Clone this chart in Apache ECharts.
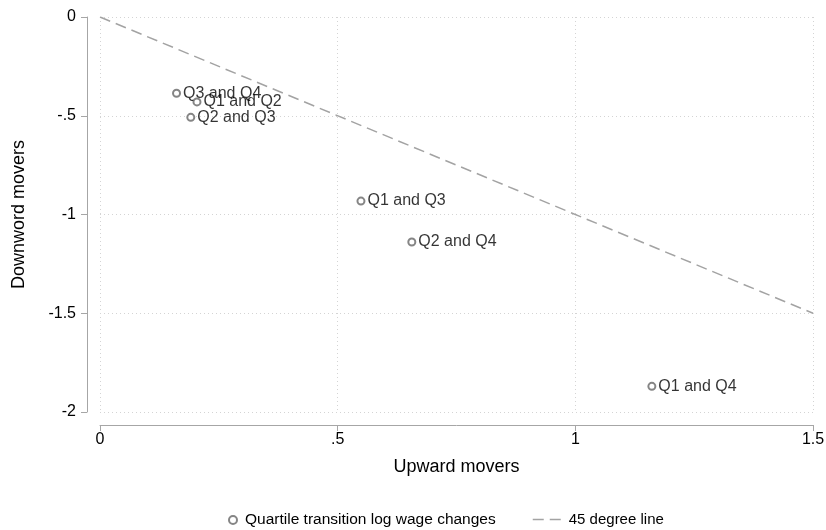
<!DOCTYPE html>
<html>
<head>
<meta charset="utf-8">
<script src="https://cdn.jsdelivr.net/npm/echarts@6/dist/echarts.min.js"></script>
<style>
  html, body { margin: 0; padding: 0; background: #fff; }
  #chart { width: 826px; height: 530px; }
</style>
</head>
<body>
<div id="chart"></div>
<script>
// Quartile transition pairs and their mean log wage changes
const pairNames = ['Q3 and Q4', 'Q1 and Q2', 'Q2 and Q3', 'Q1 and Q3', 'Q2 and Q4', 'Q1 and Q4'];
const upwardChange = [0.161, 0.204, 0.191, 0.549, 0.656, 1.161];
const downwardChange = [-0.386, -0.430, -0.508, -0.932, -1.139, -1.870];

// Reference line: downward = -upward
const refLineX = [0, 1.5];
const refLineY = [0, -1.5];

// Axis ticks
const xTicks = [0, 0.5, 1, 1.5];
const yTicks = [-2, -1.5, -1, -0.5, 0];

const FONT = 'Liberation Sans, Arial, sans-serif';
const AXIS_GREY = '#a6a6a6';
const GRID_GREY = '#d4d4d4';
const MARKER_GREY = '#666666';
const DASH = [11, 6];

// Stata-style tick text: drop the leading zero (".5", "-.5")
function tickText(v) {
  return String(v).replace('0.', '.');
}

const scatterData = pairNames.map((n, i) => [upwardChange[i], downwardChange[i], n]);
const lineData = refLineX.map((x, i) => [x, refLineY[i]]);

const chart = echarts.init(document.getElementById('chart'), null, { renderer: 'canvas' });

chart.setOption({
  animation: false,
  backgroundColor: '#ffffff',
  textStyle: { fontFamily: FONT },
  grid: { left: 100, right: 13, top: 17, bottom: 118, containLabel: false, outerBoundsMode: 'none' },
  xAxis: {
    type: 'value',
    min: xTicks[0],
    max: xTicks[xTicks.length - 1],
    interval: 0.5,
    offset: 13,
    name: 'Upward movers',
    nameLocation: 'middle',
    nameGap: 33,
    nameTextStyle: { fontSize: 18, color: '#000', fontFamily: FONT },
    axisLine: { show: true, onZero: false, lineStyle: { color: AXIS_GREY, width: 1 } },
    axisTick: { show: true, length: 6, lineStyle: { color: AXIS_GREY } },
    axisLabel: { fontSize: 16, color: '#000', margin: 7, formatter: tickText, fontFamily: FONT },
    splitLine: { show: true, lineStyle: { color: GRID_GREY, type: [1, 3], width: 1 } }
  },
  yAxis: {
    type: 'value',
    min: yTicks[0],
    max: yTicks[yTicks.length - 1],
    interval: 0.5,
    offset: 13,
    name: 'Downword movers',
    nameLocation: 'middle',
    nameGap: 59,
    nameRotate: 90,
    nameTextStyle: { fontSize: 18, color: '#000', fontFamily: FONT },
    axisLine: { show: true, onZero: false, lineStyle: { color: AXIS_GREY, width: 1 } },
    axisTick: { show: true, length: 6, lineStyle: { color: AXIS_GREY } },
    axisLabel: { fontSize: 16, color: '#000', margin: 11, formatter: tickText, fontFamily: FONT },
    splitLine: { show: true, lineStyle: { color: GRID_GREY, type: [1, 3], width: 1 } }
  },
  legend: [
    {
      data: [{ name: 'Quartile transition log wage changes', icon: 'emptyCircle' }],
      left: 223,
      top: 507,
      itemWidth: 8,
      itemHeight: 8,
      itemGap: 8,
      itemStyle: { color: MARKER_GREY, borderColor: MARKER_GREY, borderWidth: 1.2 },
      textStyle: { fontSize: 15.5, color: '#000', fontFamily: FONT, padding: [0, 0, 0, 3] }
    },
    {
      data: ['45 degree line'],
      left: 527,
      top: 507,
      itemWidth: 28,
      itemHeight: 8,
      itemStyle: { opacity: 0 },
      lineStyle: { color: '#a3a3a3', width: 1.5, type: DASH },
      textStyle: { fontSize: 15, color: '#000', fontFamily: FONT, padding: [0, 0, 0, 3] }
    }
  ],
  series: [
    {
      name: '45 degree line',
      type: 'line',
      data: lineData,
      symbol: 'none',
      silent: true,
      z: 1,
      lineStyle: { color: '#a3a3a3', width: 1.5, type: DASH },
      itemStyle: { color: '#a3a3a3' }
    },
    {
      name: 'Quartile transition log wage changes',
      type: 'scatter',
      data: scatterData,
      symbol: 'emptyCircle',
      symbolSize: 7,
      z: 3,
      itemStyle: { color: MARKER_GREY, borderWidth: 1.3, borderColor: MARKER_GREY },
      label: {
        show: true,
        position: 'right',
        distance: 2,
        formatter: p => p.data[2],
        fontSize: 16,
        color: '#000',
        fontFamily: FONT
      }
    }
  ]
});
</script>
</body>
</html>
